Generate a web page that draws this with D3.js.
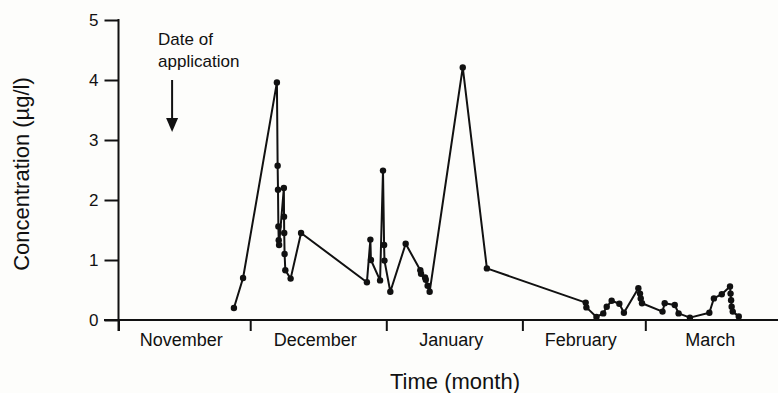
<!DOCTYPE html>
<html>
<head>
<meta charset="utf-8">
<script src="https://cdn.jsdelivr.net/npm/d3@7/dist/d3.min.js"></script>
<style>
  html, body { margin: 0; padding: 0; background: #fdfdfb; }
  svg { display: block; }
  text { font-family: "Liberation Sans", Arial, Helvetica, sans-serif; fill: #111; }
</style>
</head>
<body>
<svg id="chart" width="778" height="393"></svg>
<script>
// Sampling times of the water samples
const sampleTimes = [
  "1988-11-27 07:00", "1988-11-29 09:00",
  "1988-12-07 02:00", "1988-12-07 06:00", "1988-12-07 08:00", "1988-12-07 10:00",
  "1988-12-07 12:00", "1988-12-07 14:00", "1988-12-08 16:00", "1988-12-08 17:00",
  "1988-12-08 18:00", "1988-12-08 20:00", "1988-12-09 00:00", "1988-12-10 05:00",
  "1988-12-12 14:00", "1988-12-27 14:00", "1988-12-28 09:00", "1988-12-28 12:00",
  "1988-12-30 14:00", "1988-12-31 06:00", "1988-12-31 12:00", "1988-12-31 14:00",
  "1989-01-01 22:00", "1989-01-05 10:00", "1989-01-08 18:00", "1989-01-08 22:00",
  "1989-01-09 20:00", "1989-01-10 00:00", "1989-01-10 10:00", "1989-01-10 21:00",
  "1989-01-18 10:00", "1989-01-23 22:00",
  "1989-02-15 10:00", "1989-02-15 14:00", "1989-02-17 21:00", "1989-02-19 10:00",
  "1989-02-20 05:00", "1989-02-21 08:00", "1989-02-23 02:00", "1989-02-24 03:00",
  "1989-02-27 10:00", "1989-02-27 19:00", "1989-02-27 23:00", "1989-02-28 06:00",
  "1989-03-04 22:00", "1989-03-05 10:00", "1989-03-07 17:00", "1989-03-08 14:00",
  "1989-03-11 04:00", "1989-03-15 14:00", "1989-03-16 15:00", "1989-03-18 10:00",
  "1989-03-20 07:00", "1989-03-20 10:00", "1989-03-20 13:00", "1989-03-20 16:00",
  "1989-03-20 22:00", "1989-03-22 07:00"
];

// Measured concentration (µg/l) for each sampling time
const concentrations = [
  0.20, 0.70,
  3.96, 2.57, 2.17, 1.56,
  1.33, 1.25, 2.20, 1.72,
  1.45, 1.10, 0.83, 0.69,
  1.45, 0.63, 1.34, 1.00,
  0.66, 2.49, 1.25, 0.99,
  0.47, 1.27, 0.83, 0.77,
  0.71, 0.67, 0.57, 0.47,
  4.21, 0.86,
  0.29, 0.21, 0.05, 0.11,
  0.22, 0.32, 0.27, 0.12,
  0.53, 0.44, 0.36, 0.28,
  0.14, 0.28, 0.25, 0.11,
  0.04, 0.12, 0.36, 0.43,
  0.56, 0.44, 0.33, 0.22,
  0.14, 0.06
];

const monthStarts = ["1988-11-01", "1988-12-01", "1989-01-01", "1989-02-01", "1989-03-01", "1989-04-01"];
const monthNames = ["November", "December", "January", "February", "March"];
const yTicks = [0, 1, 2, 3, 4, 5];
const applicationDate = "1988-11-13 05:00";

const parseTime = d3.timeParse("%Y-%m-%d %H:%M");
const parseDay = d3.timeParse("%Y-%m-%d");

const data = sampleTimes.map((t, i) => ({ t: parseTime(t), v: concentrations[i] }));
const months = monthStarts.map(parseDay);

const svg = d3.select("#chart");

const x = d3.scaleTime()
  .domain([months[0], months[months.length - 1]])
  .range([118.5, 781.4]);

const y = d3.scaleLinear()
  .domain([0, 5])
  .range([320, 20]);

const axisColor = "#111";

// Y axis
const yAxis = d3.axisLeft(y)
  .tickValues(yTicks)
  .tickSize(14)
  .tickPadding(6)
  .tickFormat(d3.format("d"));

const gy = svg.append("g")
  .attr("transform", "translate(118.5,0)")
  .call(yAxis);
gy.select(".domain").remove();
gy.selectAll(".tick line").attr("stroke", axisColor).attr("stroke-width", 2);
gy.selectAll(".tick text")
  .attr("font-size", 17)
  .attr("font-family", "Liberation Sans, Arial, sans-serif")
  .attr("fill", "#111");
svg.append("line")
  .attr("x1", 118.5).attr("x2", 118.5)
  .attr("y1", y(5) - 1).attr("y2", 331)
  .attr("stroke", axisColor).attr("stroke-width", 2);

// X axis: month boundaries as ticks
const xAxis = d3.axisBottom(x)
  .tickValues(months.slice(0, months.length - 1))
  .tickSize(11)
  .tickFormat("");

const gx = svg.append("g")
  .attr("transform", `translate(0,${y(0)})`)
  .call(xAxis);
gx.select(".domain").remove();
gx.selectAll(".tick line").attr("stroke", axisColor).attr("stroke-width", 2);
svg.append("line")
  .attr("x1", 104).attr("x2", 781)
  .attr("y1", y(0)).attr("y2", y(0))
  .attr("stroke", axisColor).attr("stroke-width", 2);

// Month names centred within each month
svg.append("g")
  .selectAll("text")
  .data(monthNames)
  .join("text")
  .attr("x", (d, i) => (x(months[i]) + x(months[i + 1])) / 2 - 3)
  .attr("y", 346)
  .attr("text-anchor", "middle")
  .attr("font-size", 18)
  .text(d => d);

// Axis titles
svg.append("text")
  .attr("x", 455)
  .attr("y", 389)
  .attr("text-anchor", "middle")
  .attr("font-size", 22)
  .text("Time (month)");

svg.append("text")
  .attr("transform", "translate(29,174) rotate(-90)")
  .attr("text-anchor", "middle")
  .attr("font-size", 22)
  .text("Concentration (µg/l)");

// Application annotation with arrow
const ax = x(parseTime(applicationDate));
svg.append("text")
  .attr("x", ax - 14)
  .attr("y", 45)
  .attr("font-size", 17)
  .text("Date of");
svg.append("text")
  .attr("x", ax - 14)
  .attr("y", 67)
  .attr("font-size", 17)
  .text("application");
svg.append("line")
  .attr("x1", ax).attr("x2", ax)
  .attr("y1", 80).attr("y2", 120)
  .attr("stroke", axisColor).attr("stroke-width", 2);
svg.append("path")
  .attr("d", `M${ax - 6},118 L${ax + 6},118 L${ax},132 Z`)
  .attr("fill", axisColor);

// Concentration series
const line = d3.line()
  .x(d => x(d.t))
  .y(d => y(d.v));

svg.append("path")
  .datum(data)
  .attr("d", line)
  .attr("fill", "none")
  .attr("stroke", "#111")
  .attr("stroke-width", 2)
  .attr("stroke-linejoin", "round");

svg.append("g")
  .selectAll("circle")
  .data(data)
  .join("circle")
  .attr("cx", d => x(d.t))
  .attr("cy", d => y(d.v))
  .attr("r", 3.2)
  .attr("fill", "#111");
</script>
</body>
</html>
